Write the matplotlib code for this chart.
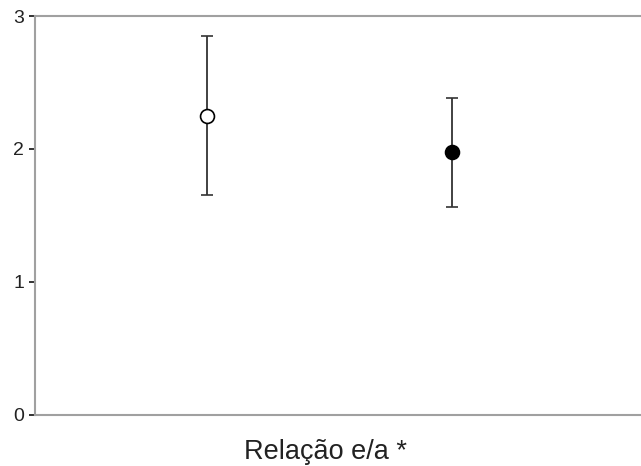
import matplotlib
matplotlib.use("Agg")
import matplotlib.pyplot as plt

plt.rcParams['font.family'] = ['Liberation Sans', 'DejaVu Sans']

groups = [1, 2]
means = [2.25, 1.98]
upper = [2.85, 2.38]
lower = [1.65, 1.56]
face_colors = ['white', 'black']
yticks = [0, 1, 2, 3]
xlabel = 'Relação e/a *'

fig = plt.figure(figsize=(6.41, 4.66), dpi=100)
ax = fig.add_axes([35/641, 1-414.7/466, 606/641, (414.7-16)/466])

for g, m, u, l, fc in zip(groups, means, upper, lower, face_colors):
    ax.errorbar([g], [m], yerr=[[m - l], [u - m]], fmt='o', color='#333333',
                ecolor='#333333', elinewidth=1.3, capsize=4.3, capthick=1.3,
                markersize=10, markerfacecolor=fc, markeredgecolor='black',
                markeredgewidth=1.2, zorder=3)

ax.set_xlim(0.297, 2.772)
ax.set_ylim(0, 3)
ax.set_yticks(yticks)
ax.set_xticks([])
fig.text(326/641, 7/466, xlabel, fontsize=19.5, ha='center', va='baseline',
         color='#222222')
for s in ['top', 'left', 'bottom']:
    ax.spines[s].set_color('#a0a0a0')
    ax.spines[s].set_linewidth(1.5)
ax.spines['right'].set_visible(False)
ax.tick_params(axis='y', length=4.3, width=1.3, color='#222222', labelsize=14,
               labelcolor='#222222', pad=3.5)

fig.savefig('out.png', dpi=100)
